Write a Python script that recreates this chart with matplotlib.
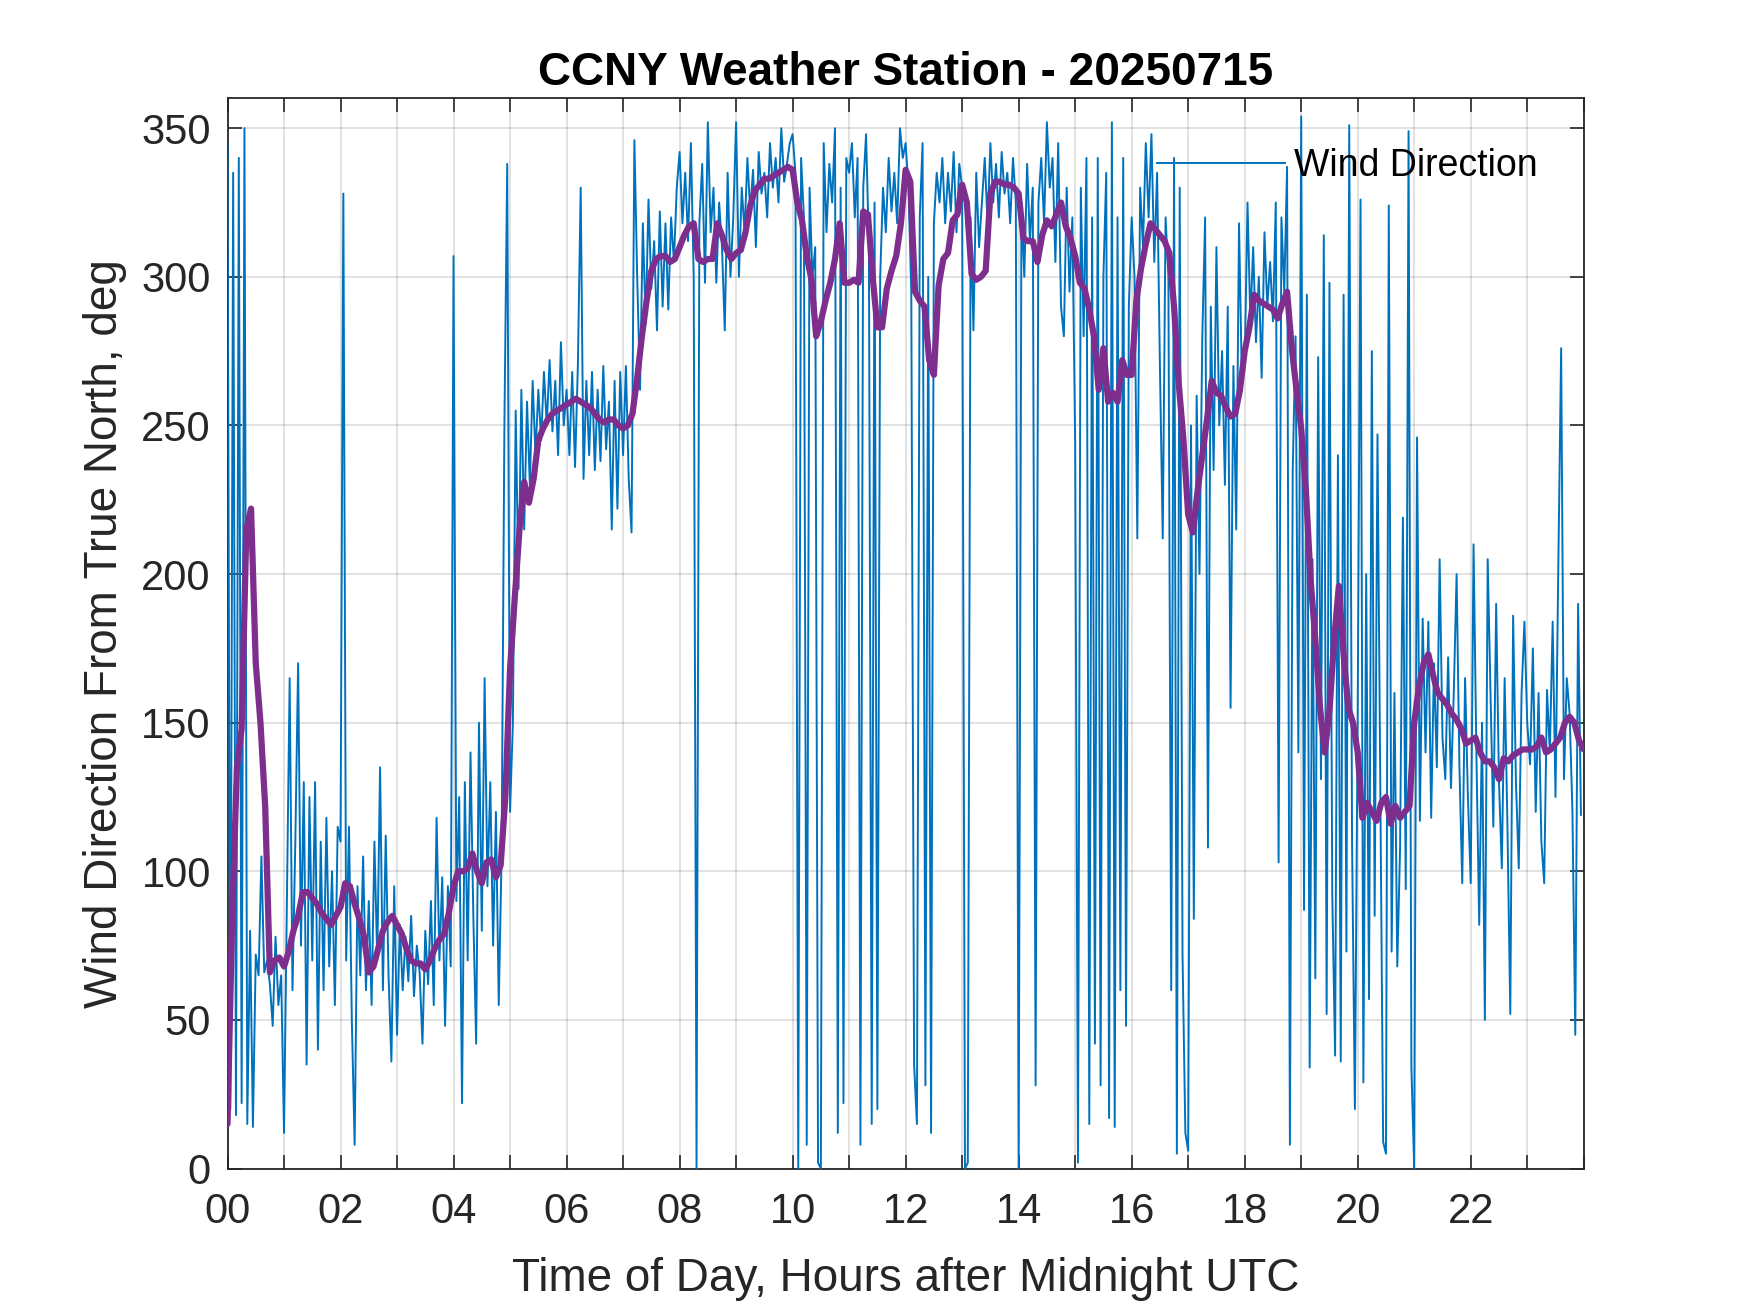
import numpy as np
import matplotlib
matplotlib.use("Agg")
import matplotlib.pyplot as plt

# ---------------- data ----------------
title_text = "CCNY Weather Station - 20250715"
x_label = "Time of Day, Hours after Midnight UTC"
y_label = "Wind Direction From True North, deg"
legend_label = "Wind Direction"

raw_step_min = 3      # raw wind direction sampled every 3 minutes
smooth_step_min = 5   # smoothed wind direction every 5 minutes

wind_dir_raw = [
    # 00
    345, 20, 335, 18, 340, 22, 350, 15, 80, 14, 72, 65, 105, 66, 70, 62, 48, 78, 55, 65,
    # 01
    12, 90, 165, 60, 110, 170, 75, 130, 35, 125, 70, 130, 40, 110, 60, 118, 68, 100, 55, 115,
    # 02
    110, 328, 70, 115, 50, 8, 95, 65, 105, 60, 90, 55, 110, 70, 135, 60, 112, 65, 36, 95,
    # 03
    45, 82, 60, 78, 63, 85, 58, 75, 66, 42, 80, 62, 90, 55, 118, 70, 98, 48, 95, 68,
    # 04
    307, 90, 125, 22, 130, 70, 140, 85, 42, 150, 80, 165, 95, 130, 75, 120, 55, 105, 250, 338,
    # 05
    120, 150, 255, 195, 262, 215, 258, 230, 265, 240, 262, 245, 268, 250, 272, 248, 265, 240, 278, 250,
    # 06
    262, 240, 268, 236, 270, 330, 232, 265, 240, 268, 235, 262, 238, 270, 242, 258, 215, 265, 222, 268,
    # 07
    240, 270, 232, 214, 346, 300, 262, 318, 284, 326, 296, 312, 282, 322, 290, 318, 289, 320, 305, 330,
    # 08
    342, 318, 335, 312, 345, 300, 0, 318, 338, 298, 352, 315, 330, 298, 325, 310, 282, 335, 300, 320,
    # 09
    352, 300, 330, 315, 340, 322, 336, 310, 342, 328, 335, 320, 345, 330, 340, 325, 350, 332, 338, 345,
    # 10
    348, 335, 0, 340, 320, 8, 330, 300, 310, 2, 0, 345, 315, 338, 325, 350, 12, 330, 22, 340,
    # 11
    335, 345, 320, 340, 8, 330, 348, 310, 15, 325, 20, 300, 330, 315, 340, 322, 335, 318, 350, 340,
    # 12
    345, 330, 295, 35, 15, 320, 345, 28, 300, 12, 318, 335, 325, 340, 318, 335, 322, 342, 315, 338,
    # 13
    330, 0, 2, 320, 282, 335, 310, 325, 340, 318, 345, 325, 338, 320, 342, 328, 335, 318, 340, 325,
    # 14
    0, 325, 300, 338, 312, 330, 28, 325, 340, 318, 352, 330, 340, 305, 345, 290, 280, 330, 295, 320,
    # 15
    245, 2, 330, 280, 340, 15, 320, 42, 340, 28, 300, 335, 17, 352, 14, 320, 60, 340, 48, 290,
    # 16
    320, 300, 212, 330, 310, 345, 320, 348, 305, 335, 270, 212, 320, 300, 60, 340, 5, 330, 72, 12,
    # 17
    6, 250, 84, 260, 200, 280, 320, 108, 290, 235, 310, 250, 275, 230, 290, 155, 270, 215, 318, 265,
    # 18
    270, 325, 285, 310, 278, 300, 266, 315, 290, 305, 285, 325, 103, 320, 295, 337, 8, 235, 280, 140,
    # 19
    354, 87, 294, 34, 205, 64, 273, 131, 314, 52, 298, 92, 38, 240, 36, 294, 73, 351, 110, 20,
    # 20
    154, 326, 29, 200, 57, 275, 85, 247, 130, 9, 5, 324, 73, 160, 68, 108, 219, 94, 349, 34,
    # 21
    0, 246, 117, 185, 140, 184, 118, 170, 135, 205, 145, 131, 172, 128, 160, 200, 135, 96, 165, 125,
    # 22
    96, 210, 140, 82, 150, 50, 205, 160, 115, 190, 130, 101, 165, 115, 52, 186, 130, 101, 160, 184,
    # 23
    150, 136, 175, 120, 160, 110, 96, 161, 140, 184, 125, 203, 276, 131, 165, 153, 120, 45, 190, 119,
]

wind_dir_smooth = [
    # 00
    15, 85, 135, 148, 215, 222, 170, 150, 122, 66, 70, 71,
    # 01
    68, 73, 80, 85, 93, 93, 91, 89, 86, 84, 82, 85,
    # 02
    88, 96, 95, 89, 84, 78, 66, 68, 74, 80, 83, 85,
    # 03
    82, 79, 74, 70, 69, 69, 67, 70, 74, 77, 79, 86,
    # 04
    95, 100, 100, 101, 106, 100, 96, 103, 104, 98, 102, 125,
    # 05
    168, 192, 215, 231, 224, 232, 245, 249, 252, 254, 255, 256,
    # 06
    257, 258, 259, 258, 257, 256, 254, 252, 251, 252, 252, 250,
    # 07
    249, 250, 254, 266, 280, 292, 302, 306, 307, 307, 305, 306,
    # 08
    310, 314, 317, 318, 306, 305, 306, 306, 318, 314, 309, 306,
    # 09
    308, 309, 315, 324, 329, 331, 333, 333, 334, 335, 336, 337,
    # 10
    336, 325, 319, 307, 299, 280, 285, 292, 298, 306, 318, 298,
    # 11
    298, 299, 298, 322, 321, 300, 283, 283, 296, 302, 307, 318,
    # 12
    336, 332, 295, 292, 290, 272, 267, 297, 306, 308, 319, 321,
    # 13
    331, 325, 301, 299, 300, 302, 328, 332, 332, 331, 331, 330,
    # 14
    328, 313, 312, 312, 305, 314, 319, 317, 321, 325, 317, 313,
    # 15
    307, 298, 296, 289, 280, 262, 276, 258, 261, 258, 272, 267,
    # 16
    267, 292, 303, 311, 318, 316, 314, 312, 308, 290, 264, 245,
    # 17
    220, 214, 228, 240, 252, 265, 261, 260, 256, 253, 254, 262,
    # 18
    275, 283, 294, 292, 291, 290, 289, 286, 291, 295, 276, 262,
    # 19
    249, 228, 198, 178, 155, 140, 154, 178, 196, 173, 155, 150,
    # 20
    140, 118, 123, 120, 117, 123, 125, 116, 122, 118, 120, 122,
    # 21
    150, 162, 170, 173, 166, 160, 158, 156, 153, 151, 148, 143,
    # 22
    144, 145, 140, 137, 137, 135, 131, 138, 137, 139, 140, 141,
    # 23
    141, 141, 142, 145, 140, 141, 143, 145, 150, 152, 150, 144,
    # 24
    141,
]

x_tick_hours = list(range(0, 25))
x_tick_labels = [f"{h:02d}" if (h % 2 == 0 and h < 24) else "" for h in x_tick_hours]
y_ticks = [0, 50, 100, 150, 200, 250, 300, 350]

# ---------------- plot ----------------
plt.rcParams['font.family'] = ['Liberation Sans', 'DejaVu Sans']

raw_hours = np.arange(len(wind_dir_raw)) * raw_step_min / 60.0
smooth_hours = np.arange(len(wind_dir_smooth)) * smooth_step_min / 60.0

fig = plt.figure(figsize=(17.5, 13.13), dpi=100)
ax = fig.add_axes([0.13, 0.11, 0.775, 0.815])

axis_col = '#262626'
line_raw, = ax.plot(raw_hours, wind_dir_raw, color='#0072BD', lw=1.4, label=legend_label, zorder=3)
ax.plot(smooth_hours, wind_dir_smooth, color='#7E2F8E', lw=4.5, zorder=4,
        solid_joinstyle='round', solid_capstyle='round')

ax.set_xlim(0, 24)
ax.set_ylim(0, 360)
ax.set_xticks(x_tick_hours)
ax.set_xticklabels(x_tick_labels)
ax.set_yticks(y_ticks)

ax.grid(True, color=axis_col, alpha=0.15, linewidth=1.3)
ax.set_axisbelow(True)

for sp in ax.spines.values():
    sp.set_color(axis_col)
    sp.set_linewidth(1.3)

ax.tick_params(axis='both', direction='in', top=True, right=True, length=10, width=1.2,
               color=axis_col, labelcolor=axis_col, labelsize=30)
ax.tick_params(axis='x', pad=17)
ax.tick_params(axis='y', pad=12)

ax.set_xlabel(x_label, fontsize=33, color=axis_col, labelpad=18)
ax.set_ylabel(y_label, fontsize=33, color=axis_col, labelpad=10)
ax.set_title(title_text, fontsize=33, fontweight='bold', color='black', pad=10)

leg = ax.legend(handles=[line_raw], loc='center right', bbox_to_anchor=(0.966, 0.937),
                frameon=False, fontsize=27, handlelength=3.4, handletextpad=0.25,
                borderpad=0, borderaxespad=0)

fig.savefig('out.png', dpi=100)
